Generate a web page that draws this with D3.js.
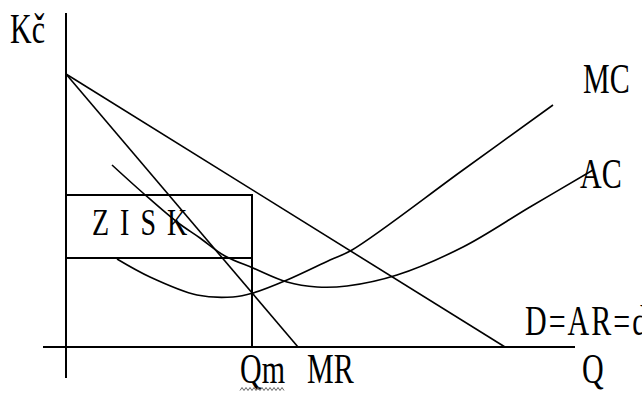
<!DOCTYPE html>
<html>
<head>
<meta charset="utf-8" />
<title>Monopol - zisk</title>
<style>
    html, body { margin: 0; padding: 0; background: #fff; }
    svg { display: block; }
    .lbl { font-family: 'Liberation Serif', 'Times New Roman', serif; font-size: 30px; fill: #000; }
    .curve { fill: none; stroke: #000; stroke-width: 1.6px; }
    .axis { stroke: #000; stroke-width: 2px; }
    .box { fill: none; stroke: #000; stroke-width: 2px; }
</style>
</head>
<body>
<div id="chart"></div>
<script src="https://d3js.org/d3.v7.min.js"></script>
<script>
    // Q = quantity, P = price (Kč), arbitrary units
    var demandQ = [0, 219.5]
    var demandP = [136.5, 0]
    var mrQ = [0, 116]
    var mrP = [136.5, 0]
    var mcQ = [25.5, 42, 65.5, 83.5, 93.5, 110.5, 132, 143, 198.5, 243.5]
    var mcP = [44, 35, 26, 25, 27, 33.5, 43.5, 48.5, 88.5, 121]
    var acQ = [23, 38.5, 55.5, 67, 79.5, 93.5, 110.5, 125.5, 140.5, 165.5, 198.5, 232, 263.5]
    var acP = [91, 77, 62.5, 54.5, 45.5, 39.5, 32.5, 30, 30.5, 36, 50, 70, 88.5]
    var qm = 93
    var priceM = 76     // top of the ZISK box
    var costM = 44.5    // AC at Qm, bottom of the box

    var width = 642, height = 394

    var svg = d3.select("#chart").append("svg")
        .attr("width", width)
        .attr("height", height)

    var x = d3.scaleLinear().domain([0, 100]).range([66, 266])
    var y = d3.scaleLinear().domain([0, 100]).range([347, 147])

    function pts(qs, ps) {
        return qs.map(function(q, i) { return [q, ps[i]] })
    }

    var line = d3.line()
        .x(function(d) { return x(d[0]) })
        .y(function(d) { return y(d[1]) })
    var smooth = d3.line()
        .x(function(d) { return x(d[0]) })
        .y(function(d) { return y(d[1]) })
        .curve(d3.curveCatmullRom.alpha(0.5))

    // axes
    svg.append("line").attr("class", "axis")
        .attr("x1", x(0)).attr("x2", x(0))
        .attr("y1", y(167)).attr("y2", y(-15.5))
    svg.append("line").attr("class", "axis")
        .attr("x1", x(-11.5)).attr("x2", x(254.5))
        .attr("y1", y(0)).attr("y2", y(0))

    // profit box
    svg.append("rect").attr("class", "box")
        .attr("x", x(0)).attr("y", y(priceM))
        .attr("width", x(qm) - x(0))
        .attr("height", y(costM) - y(priceM))
    svg.append("line").attr("class", "box")
        .attr("x1", x(qm)).attr("x2", x(qm))
        .attr("y1", y(costM)).attr("y2", y(0))

    // curves
    svg.append("path").attr("class", "curve").attr("d", line(pts(demandQ, demandP)))
    svg.append("path").attr("class", "curve").attr("d", line(pts(mrQ, mrP)))
    svg.append("path").attr("class", "curve").attr("d", smooth(pts(mcQ, mcP)))
    svg.append("path").attr("class", "curve").attr("d", smooth(pts(acQ, acP)))

    // labels (tall, narrow bitmap-like serif)
    var labels = [
        { t: "Kč", q: -28, p: 152, ls: 0 },
        { t: "MC", q: 258.5, p: 127, ls: 0 },
        { t: "AC", q: 257, p: 79.5, ls: 0 },
        { t: "D=AR=d", q: 229.5, p: 6, ls: 2 },
        { t: "Qm", q: 87, p: -18, ls: 0 },
        { t: "MR", q: 120.5, p: -18, ls: 0 },
        { t: "Q", q: 258, p: -18, ls: 0 }
    ]
    svg.selectAll("text.lbl").data(labels).enter().append("text")
        .attr("class", "lbl")
        .style("letter-spacing", function(d) { return d.ls + "px" })
        .attr("transform", function(d) {
            return "translate(" + x(d.q) + "," + y(d.p) + ") scale(1,1.4)"
        })
        .text(function(d) { return d.t })

    svg.append("text").attr("class", "lbl")
        .style("font-size", "28px")
        .style("letter-spacing", "2px")
        .attr("transform", "translate(" + x(13) + "," + y(56) + ") scale(1,1.32)")
        .text("Z I S K")

    // spell-check squiggle under "Qm"
    var zig = []
    for (var i = 0; i <= 22; i++) zig.push([240 + i * 2, 389 + (i % 2 ? -1.5 : 1.5)])
    svg.append("path")
        .attr("d", d3.line()(zig))
        .attr("fill", "none")
        .attr("stroke", "#666")
        .attr("stroke-width", 1)
</script>
</body>
</html>
